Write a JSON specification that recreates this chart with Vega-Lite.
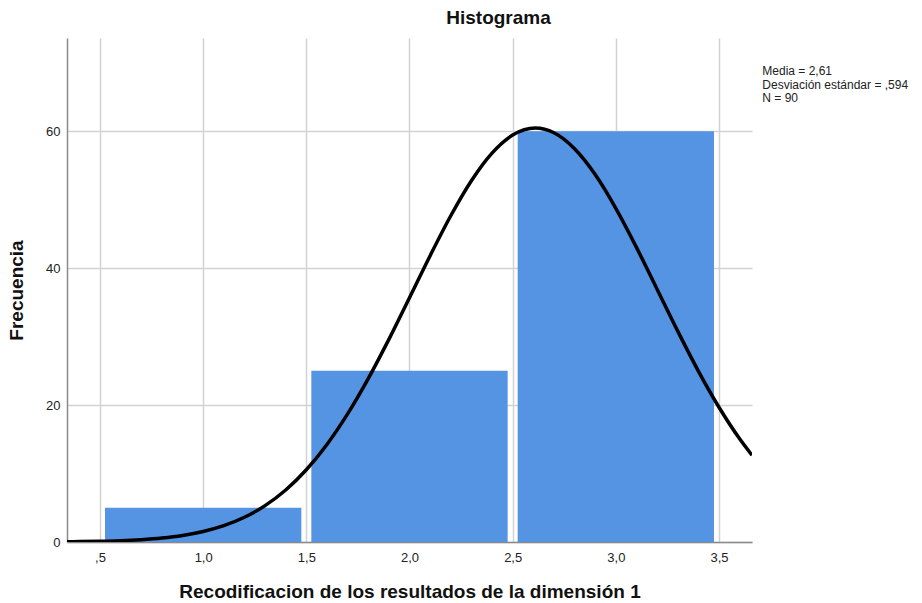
{
  "$schema": "https://vega.github.io/schema/vega-lite/v6.json",
  "autosize": "none",
  "width": 685,
  "height": 504,
  "padding": {"left": 67, "top": 38, "right": 170, "bottom": 61},
  "background": "white",
  "title": {
    "text": "Histograma",
    "anchor": "middle",
    "frame": "group",
    "dx": 89,
    "offset": 10,
    "font": "Liberation Sans",
    "fontSize": 19,
    "fontWeight": "bold",
    "color": "#111"
  },
  "config": {
    "view": {"stroke": null},
    "font": "Liberation Sans",
    "axis": {
      "labelFont": "Liberation Sans",
      "labelFontSize": 13,
      "labelColor": "#222",
      "titleFont": "Liberation Sans",
      "titleFontSize": 19,
      "titleFontWeight": "bold",
      "titleColor": "#111",
      "ticks": false,
      "gridColor": "#d2d2d2",
      "gridWidth": 1.5,
      "domainColor": "#8a8a8a",
      "domainWidth": 1.5
    }
  },
  "datasets": {
    "bars": [
      {"start": 0.5, "end": 1.5, "count": 5},
      {"start": 1.5, "end": 2.5, "count": 25},
      {"start": 2.5, "end": 3.5, "count": 60}
    ],
    "curve": [
      {"v": 0.34, "f": 0.041},
      {"v": 0.4, "f": 0.06},
      {"v": 0.5, "f": 0.11},
      {"v": 0.6, "f": 0.197},
      {"v": 0.7, "f": 0.344},
      {"v": 0.8, "f": 0.582},
      {"v": 0.9, "f": 0.958},
      {"v": 1.0, "f": 1.535},
      {"v": 1.1, "f": 2.388},
      {"v": 1.2, "f": 3.614},
      {"v": 1.3, "f": 5.311},
      {"v": 1.4, "f": 7.59},
      {"v": 1.5, "f": 10.55},
      {"v": 1.6, "f": 14.24},
      {"v": 1.7, "f": 18.7},
      {"v": 1.8, "f": 23.86},
      {"v": 1.9, "f": 29.59},
      {"v": 2.0, "f": 35.68},
      {"v": 2.1, "f": 41.81},
      {"v": 2.2, "f": 47.64},
      {"v": 2.3, "f": 52.76},
      {"v": 2.4, "f": 56.79},
      {"v": 2.5, "f": 59.42},
      {"v": 2.61, "f": 60.45},
      {"v": 2.7, "f": 59.76},
      {"v": 2.8, "f": 57.43},
      {"v": 2.9, "f": 53.66},
      {"v": 3.0, "f": 48.73},
      {"v": 3.1, "f": 43.02},
      {"v": 3.2, "f": 36.91},
      {"v": 3.3, "f": 30.79},
      {"v": 3.4, "f": 24.96},
      {"v": 3.5, "f": 19.68},
      {"v": 3.6, "f": 15.07},
      {"v": 3.66, "f": 12.67}
    ]
  },
  "layer": [
    {
      "data": {"name": "bars"},
      "mark": {"type": "bar", "color": "#5594e3", "xOffset": 5, "x2Offset": -5},
      "encoding": {
        "x": {
          "field": "start",
          "type": "quantitative",
          "scale": {"domain": [0.34, 3.66], "nice": false, "zero": false},
          "axis": {
            "values": [0.5, 1, 1.5, 2, 2.5, 3, 3.5],
            "labelExpr": "replace(replace(format(datum.value, '.1f'), '.', ','), '0,', ',')",
            "labelPadding": 9,
            "title": "Recodificacion de los resultados de la dimensión 1",
            "titlePadding": 18
          }
        },
        "x2": {"field": "end"},
        "y": {
          "field": "count",
          "type": "quantitative",
          "scale": {"domain": [0, 73.6], "nice": false},
          "axis": {
            "values": [0, 20, 40, 60],
            "labelPadding": 7,
            "title": "Frecuencia",
            "titlePadding": 19
          }
        },
        "y2": {"datum": 0}
      }
    },
    {
      "data": {"name": "curve"},
      "mark": {"type": "line", "color": "#000", "strokeWidth": 3.5, "interpolate": "monotone", "clip": true},
      "encoding": {
        "x": {"field": "v", "type": "quantitative"},
        "y": {"field": "f", "type": "quantitative"}
      }
    },
    {
      "data": {"values": [{"t": "Media = 2,61\nDesviación estándar = ,594\nN = 90"}]},
      "mark": {"type": "text", "align": "left", "baseline": "top", "lineBreak": "\n", "lineHeight": 13.5, "fontSize": 12, "font": "Liberation Sans", "color": "#222"},
      "encoding": {
        "x": {"datum": 3.71},
        "y": {"datum": 69.5},
        "text": {"field": "t"}
      }
    }
  ]
}
